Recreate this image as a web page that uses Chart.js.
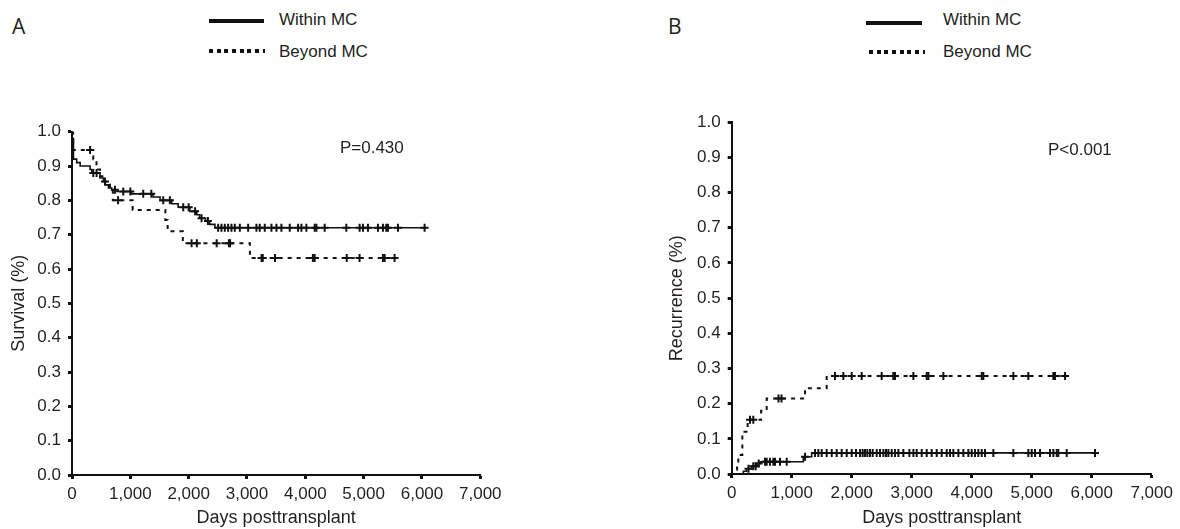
<!DOCTYPE html>
<html>
<head>
<meta charset="utf-8">
<script src="https://cdn.jsdelivr.net/npm/chart.js@4.4.1/dist/chart.umd.min.js"></script>
<style>
  body { margin: 0; background: #fff; width: 1180px; height: 529px; position: relative; overflow: hidden;
         font-family: "Liberation Sans", Arial, sans-serif; color: #231f20; }
  canvas { position: absolute; top: 0; }
  #chartA { left: 0; }
  #chartB { left: 590px; }
  .panel { position: absolute; font-family: "Open Sans", sans-serif; font-size: 21px; line-height: 24px; }
  .key-text { position: absolute; font-size: 17px; line-height: 20px; }
  .key-solid { position: absolute; height: 4px; background: #111; }
  .key-dots { position: absolute; height: 4px;
              background: repeating-linear-gradient(to right, #111 0 4px, transparent 4px 7.7px); }
</style>
</head>
<body>
<div class="panel" style="left:12px; top:14px;">A</div>
<div class="key-solid" style="left:209px; top:19px; width:55px;"></div>
<div class="key-text" style="left:279px; top:10px;">Within MC</div>
<div class="key-dots" style="left:209px; top:49px; width:56px;"></div>
<div class="key-text" style="left:279px; top:42px;">Beyond MC</div>

<div class="panel" style="left:668px; top:14px;">B</div>
<div class="key-solid" style="left:866px; top:21px; width:56px;"></div>
<div class="key-text" style="left:943px; top:10px;">Within MC</div>
<div class="key-dots" style="left:869px; top:50px; width:56px;"></div>
<div class="key-text" style="left:943px; top:42px;">Beyond MC</div>

<canvas id="chartA" width="590" height="529"></canvas>
<canvas id="chartB" width="590" height="529"></canvas>

<script>
// axis ticks
const dayTicks = [0, 1000, 2000, 3000, 4000, 5000, 6000, 7000];
const rateTicks = [0, 0.1, 0.2, 0.3, 0.4, 0.5, 0.6, 0.7, 0.8, 0.9, 1.0];

// survival, within MC (step times / values after step / censored times)
const survWithinDays = [0, 5, 25, 80, 140, 310, 340, 480, 540, 570, 625, 680, 770, 1020, 1390, 1510, 1710, 1820, 2020, 2140, 2190, 2290, 2360, 2450, 6045];
const survWithinRate = [1.0, 0.98, 0.92, 0.91, 0.90, 0.89, 0.88, 0.865, 0.855, 0.845, 0.836, 0.831, 0.826, 0.819, 0.81, 0.80, 0.79, 0.78, 0.768, 0.758, 0.748, 0.74, 0.73, 0.72, 0.72];
const survWithinCensored = [365, 422, 565, 736, 879, 1000, 1221, 1360, 1564, 1678, 1907, 2000, 2110, 2221, 2330,
  2506, 2563, 2620, 2677, 2734, 2791, 2877, 3020, 3162, 3219, 3305, 3419, 3505, 3590, 3733, 3876, 3933, 4018,
  4161, 4190, 4332, 4703, 4931, 4988, 5074, 5245, 5331, 5388, 5417, 5588, 6045];

// survival, beyond MC
const survBeyondDays = [0, 20, 365, 420, 480, 560, 650, 700, 1040, 1600, 1640, 1900, 3050, 5560];
const survBeyondRate = [1.0, 0.947, 0.92, 0.89, 0.87, 0.855, 0.84, 0.80, 0.772, 0.743, 0.71, 0.675, 0.632, 0.632];
const survBeyondCensored = [310, 790, 2050, 2140, 2480, 2690, 2710, 3250, 3270, 3480, 4130, 4160, 4710, 4930, 5330, 5360, 5530];

// recurrence, within MC
const recWithinDays = [0, 194, 250, 333, 417, 472, 1194, 1333, 6055];
const recWithinRate = [0, 0.008, 0.015, 0.022, 0.03, 0.035, 0.049, 0.06, 0.06];
const recWithinCensored = [280, 360, 400, 450, 555, 583, 638, 694, 722, 805, 917, 1222, 1389, 1444, 1500, 1583,
  1667, 1750, 1833, 1917, 2000, 2072, 2139, 2183, 2222, 2261, 2305, 2350, 2417, 2472, 2528, 2572, 2611, 2667,
  2722, 2778, 2861, 2961, 3028, 3083, 3167, 3250, 3333, 3417, 3500, 3583, 3639, 3694, 3778, 3861, 3944, 4000,
  4055, 4111, 4167, 4222, 4361, 4694, 4944, 5000, 5055, 5139, 5305, 5361, 5417, 5444, 5583, 6055];

// recurrence, beyond MC
const recBeyondDays = [0, 90, 110, 177, 266, 490, 583, 1222, 1583, 5556];
const recBeyondRate = [0, 0.026, 0.054, 0.12, 0.154, 0.18, 0.215, 0.244, 0.279, 0.279];
const recBeyondCensored = [305, 360, 780, 830, 1722, 1861, 2000, 2167, 2500, 2694, 2722, 3028, 3250, 3278, 3528,
  4167, 4194, 4694, 4944, 5361, 5389, 5556];

const FONT = '"Liberation Sans", Arial, sans-serif';
const INK = '#231f20';

function curvePoints(days, rate) {
  return days.map((d, i) => ({ x: d, y: rate[i] }));
}

// put each censor tick on the curve value in force at that day
function censorPoints(censored, days, rate) {
  return censored.map(c => {
    let k = 0;
    while (k + 1 < days.length && days[k + 1] <= c) k++;
    return { x: c, y: rate[k] };
  });
}

const pValuePlugin = {
  id: 'pValue',
  afterDatasetsDraw(chart, args, opts) {
    const { ctx, scales } = chart;
    ctx.save();
    ctx.font = '17px ' + FONT;
    ctx.fillStyle = INK;
    ctx.textBaseline = 'middle';
    ctx.fillText(opts.text, scales.x.getPixelForValue(opts.day), scales.y.getPixelForValue(opts.value));
    ctx.restore();
  }
};

function kmChart(id, p) {
  const stepLine = (days, rate, dash, width) => ({
    type: 'line',
    data: curvePoints(days, rate),
    stepped: true,
    borderColor: '#111',
    borderWidth: width,
    borderDash: dash,
    pointRadius: 0,
    fill: false
  });
  const ticks = (censored, days, rate) => ({
    type: 'scatter',
    data: censorPoints(censored, days, rate),
    pointStyle: 'cross',
    pointRadius: 4,
    pointBorderWidth: 2,
    borderColor: '#111',
    clip: false
  });
  return new Chart(document.getElementById(id), {
    type: 'line',
    data: {
      datasets: [
        stepLine(p.within[0], p.within[1], [], 1.6),
        stepLine(p.beyond[0], p.beyond[1], [4, 5], 2),
        ticks(p.within[2], p.within[0], p.within[1]),
        ticks(p.beyond[2], p.beyond[0], p.beyond[1])
      ]
    },
    options: {
      responsive: false,
      animation: false,
      layout: { padding: { left: p.padLeft, top: p.padTop, right: p.padRight, bottom: 0 } },
      plugins: {
        legend: { display: false },
        tooltip: { enabled: false },
        pValue: p.pValue
      },
      scales: {
        x: {
          type: 'linear', min: 0, max: 7000,
          afterBuildTicks: s => { s.ticks = dayTicks.map(v => ({ value: v })); },
          afterFit: s => { s.height = p.xAxisHeight; },
          border: { display: true, color: '#111', width: 2 },
          grid: { drawOnChartArea: false, drawTicks: true, tickLength: 4, tickWidth: 3, tickColor: '#111' },
          ticks: { color: INK, font: { family: FONT, size: 17 }, padding: 5, maxRotation: 0,
                   callback: v => v.toLocaleString('en-US') },
          title: { display: true, text: 'Days posttransplant', color: INK,
                   font: { family: FONT, size: 18 }, padding: { top: 2, bottom: 0 } }
        },
        y: {
          type: 'linear', min: 0, max: 1,
          afterBuildTicks: s => { s.ticks = rateTicks.map(v => ({ value: v })); },
          afterFit: s => { s.width = p.yAxisWidth; },
          border: { display: true, color: '#111', width: 2 },
          grid: { drawOnChartArea: false, drawTicks: true, tickLength: 4, tickWidth: 3, tickColor: '#111' },
          ticks: { color: INK, font: { family: FONT, size: 17 }, padding: 7,
                   callback: v => v.toFixed(1) },
          title: { display: true, text: p.yTitle, color: INK,
                   font: { family: FONT, size: 18 }, padding: { top: 8.5, bottom: 0 } }
        }
      }
    },
    plugins: [pValuePlugin]
  });
}

kmChart('chartA', {
  within: [survWithinDays, survWithinRate, survWithinCensored],
  beyond: [survBeyondDays, survBeyondRate, survBeyondCensored],
  yTitle: 'Survival (%)',
  pValue: { text: 'P=0.430', day: 4594, value: 0.9525 },
  padLeft: 0, yAxisWidth: 72, padTop: 131.7, padRight: 109.7, xAxisHeight: 54
});

kmChart('chartB', {
  within: [recWithinDays, recWithinRate, recWithinCensored],
  beyond: [recBeyondDays, recBeyondRate, recBeyondCensored],
  yTitle: 'Recurrence (%)',
  pValue: { text: 'P<0.001', day: 5272, value: 0.921 },
  padLeft: 67.7, yAxisWidth: 74, padTop: 122.3, padRight: 28.3, xAxisHeight: 55
});
</script>
</body>
</html>
